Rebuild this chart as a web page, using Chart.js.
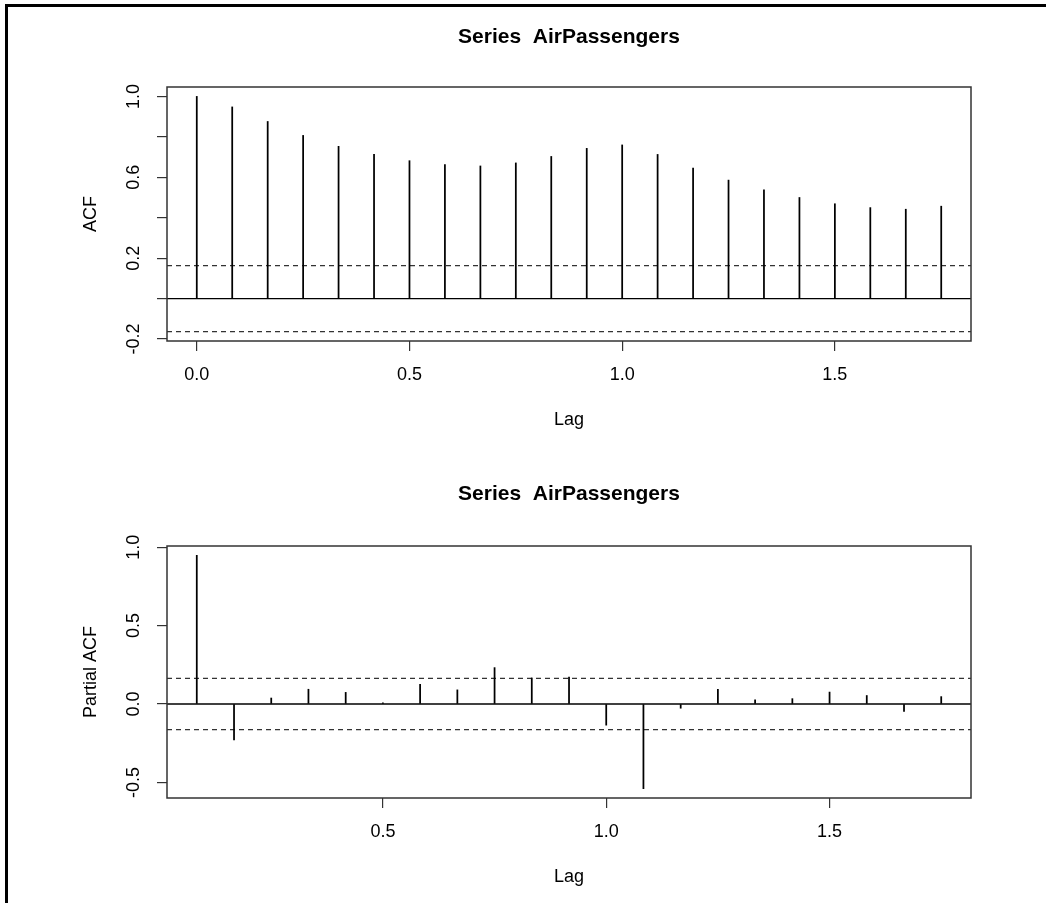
<!DOCTYPE html>
<html><head><meta charset="utf-8">
<script src="https://cdn.jsdelivr.net/npm/chart.js@4.4.0/dist/chart.umd.min.js"></script>
<style>
html,body{margin:0;padding:0;background:#fff;width:1046px;height:903px;overflow:hidden;}
.panel{position:absolute;left:0;width:1046px;}
#p1{top:0;height:451px}
#p2{top:451px;height:452px}
#frame{position:absolute;left:5px;top:4px;width:1041px;height:899px;border-top:3px solid #000;border-left:3px solid #000;box-sizing:border-box;pointer-events:none;}
</style></head><body>
<div class="panel" id="p1"><canvas id="c1" width="1046" height="451"></canvas></div>
<div class="panel" id="p2"><canvas id="c2" width="1046" height="452"></canvas></div>
<div id="frame"></div>
<script>
// ---- data (lag in years, AirPassengers monthly) ----
const chartTitle = 'Series  AirPassengers';
const acfLags = [0, 0.0833, 0.1667, 0.25, 0.3333, 0.4167, 0.5, 0.5833, 0.6667, 0.75, 0.8333, 0.9167, 1.0, 1.0833, 1.1667, 1.25, 1.3333, 1.4167, 1.5, 1.5833, 1.6667, 1.75];
const acfValues = [1.000, 0.948, 0.876, 0.807, 0.753, 0.714, 0.682, 0.663, 0.656, 0.671, 0.703, 0.743, 0.760, 0.713, 0.646, 0.586, 0.538, 0.500, 0.469, 0.450, 0.442, 0.457];
const pacfLags = [0.0833, 0.1667, 0.25, 0.3333, 0.4167, 0.5, 0.5833, 0.6667, 0.75, 0.8333, 0.9167, 1.0, 1.0833, 1.1667, 1.25, 1.3333, 1.4167, 1.5, 1.5833, 1.6667, 1.75];
const pacfValues = [0.948, -0.229, 0.038, 0.094, 0.074, 0.008, 0.126, 0.090, 0.232, 0.166, 0.171, -0.135, -0.540, -0.027, 0.093, 0.026, 0.034, 0.076, 0.054, -0.047, 0.047];
const confLimit = 0.1633;
const acfXTickLabels = ['0.0', '0.5', '1.0', '1.5'];
const acfYTickLabels = ['-0.2', '0.2', '0.6', '1.0'];
const pacfXTickLabels = ['0.5', '1.0', '1.5'];
const pacfYTickLabels = ['-0.5', '0.0', '0.5', '1.0'];

const FONT = "'Liberation Sans', Arial, Helvetica, sans-serif";
Chart.defaults.font.family = FONT;
Chart.defaults.color = '#000';

function fmt(v) { if (Math.abs(v) < 1e-9) v = 0; return v.toFixed(1); }
function padRange(lo, hi) { const r = hi - lo; return [lo - 0.04 * r, hi + 0.04 * r]; }

const boxPlugin = {
  id: 'boxPlugin',
  afterDraw(chart, args, opts) {
    const ctx = chart.ctx, a = chart.chartArea, ys = chart.scales.y;
    ctx.save();
    ctx.strokeStyle = '#333';
    ctx.lineWidth = 1.5;
    ctx.strokeRect(a.left, a.top, a.right - a.left, a.bottom - a.top);
    ctx.fillStyle = '#000';
    ctx.font = '18px ' + FONT;
    ctx.textAlign = 'center';
    ctx.textBaseline = 'middle';
    ys.ticks.forEach(t => {
      if (!t.label) return;
      const py = ys.getPixelForValue(t.value);
      ctx.save();
      ctx.translate(opts.labelX, py);
      ctx.rotate(-Math.PI / 2);
      ctx.fillText(t.label, 0, 0);
      ctx.restore();
    });
    ctx.restore();
  }
};

function makeChart(id, p) {
  const xr = padRange(Math.min(...p.lags), Math.max(...p.lags));
  const yr = padRange(Math.min(-confLimit, ...p.values), Math.max(confLimit, ...p.values));
  const stems = p.lags.map((x, i) => ({ x: x, y: p.values[i] }));
  const hline = v => [{ x: xr[0], y: v }, { x: xr[1], y: v }];
  return new Chart(document.getElementById(id), {
    data: {
      datasets: [
        { type: 'bar', data: stems, backgroundColor: '#000', borderWidth: 0, barThickness: 1.1, order: 1 },
        { type: 'line', data: hline(0), borderColor: '#000', borderWidth: 1.3, pointRadius: 0, order: 2 },
        { type: 'line', data: hline(confLimit), borderColor: '#333', borderWidth: 1.2, borderDash: [5, 4], pointRadius: 0, order: 3 },
        { type: 'line', data: hline(-confLimit), borderColor: '#333', borderWidth: 1.2, borderDash: [5, 4], pointRadius: 0, order: 4 }
      ]
    },
    options: {
      responsive: false,
      animation: false,
      events: [],
      layout: { padding: { left: 0, right: 75, top: 0, bottom: 0 } },
      plugins: {
        legend: { display: false },
        tooltip: { enabled: false },
        title: {
          display: true, text: chartTitle, fullSize: false,
          font: { size: 21, weight: 'bold' }, color: '#000',
          padding: { top: p.titleTop, bottom: p.titleBottom }
        },
        boxPlugin: { labelX: 134 }
      },
      scales: {
        x: {
          type: 'linear', position: 'bottom', min: xr[0], max: xr[1], offset: false,
          border: { display: false },
          grid: { offset: false, drawOnChartArea: false, drawTicks: true, tickLength: 10, color: '#333', lineWidth: 1.2 },
          ticks: {
            stepSize: 0.5, includeBounds: false, padding: 13, maxRotation: 0,
            font: { size: 18 }, color: '#000',
            callback: v => { const s = fmt(v); return p.xLabels.includes(s) ? s : ''; }
          },
          title: { display: true, text: 'Lag', font: { size: 18 }, color: '#000', padding: { top: 0, bottom: p.lagBottom } },
          afterFit: s => { s.height = p.xAxisHeight; }
        },
        y: {
          type: 'linear', position: 'left', min: yr[0], max: yr[1],
          border: { display: false },
          grid: { drawOnChartArea: false, drawTicks: true, tickLength: 10, color: '#333', lineWidth: 1.2 },
          ticks: {
            display: false, stepSize: p.yStep, includeBounds: false,
            callback: v => { const s = fmt(v); return p.yLabels.includes(s) ? s : ''; }
          },
          title: { display: true, text: p.yTitle, font: { size: 18 }, color: '#000', padding: { top: 80, bottom: 0 } },
          afterFit: s => { s.width = 167; }
        }
      }
    },
    plugins: [boxPlugin]
  });
}

makeChart('c1', {
  lags: acfLags, values: acfValues, yTitle: 'ACF', yStep: 0.2,
  xLabels: acfXTickLabels, yLabels: acfYTickLabels,
  titleTop: 24.4, titleBottom: 37.4, xAxisHeight: 110, lagBottom: 20
});
makeChart('c2', {
  lags: pacfLags, values: pacfValues, yTitle: 'Partial ACF', yStep: 0.5,
  xLabels: pacfXTickLabels, yLabels: pacfYTickLabels,
  titleTop: 30.4, titleBottom: 39.4, xAxisHeight: 105, lagBottom: 15
});
</script>
</body></html>
